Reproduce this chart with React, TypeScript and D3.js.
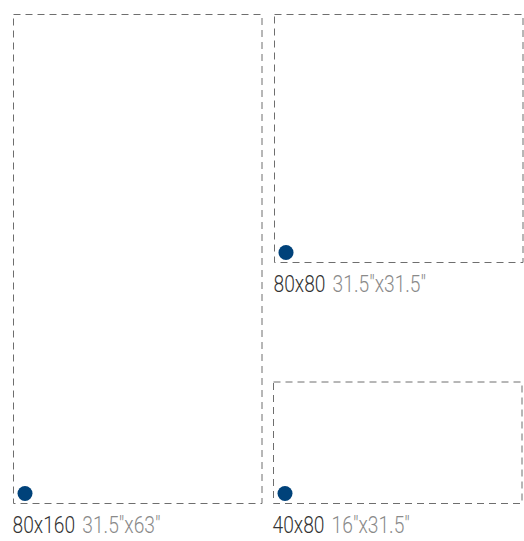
import React from "react";
import * as d3 from "d3";

// Panel sizes in cm (width x height) and their labels
const panelNames = ["80x160", "80x80", "40x80"];
const panelWidthsCm = [80, 80, 80];
const panelHeightsCm = [160, 80, 40];
const inchLabels = ['31.5"x63"', '31.5"x31.5"', '16"x31.5"'];
const columns = [0, 1, 1];
const anchors = ["top", "top", "bottom"];

const W = 524;
const H = 541;

export default function App() {
  const colX = [13.5, 274.5];
  const top = 14.5;
  const bottom = 503.5;

  const wScale = d3.scaleLinear().domain([0, 80]).range([0, 248.5]);
  const hScale = d3.scaleLinear().domain([40, 80, 160]).range([121.5, 248, 489]);

  const panels = panelNames.map((name, i) => {
    const w = wScale(panelWidthsCm[i]);
    const h = hScale(panelHeightsCm[i]);
    const x = colX[columns[i]] - (i === 2 ? 1 : 0);
    const y = anchors[i] === "top" ? top : bottom - h;
    return { name, inch: inchLabels[i], x, y, w, h };
  });

  return (
    <svg
      width={W}
      height={H}
      style={{ position: "absolute", left: 0, top: 0, display: "block" }}
    >
      <rect x={0} y={0} width={W} height={H} fill="#ffffff" />
      {panels.map((p, i) => (
        <g key={i}>
          <rect
            x={p.x}
            y={p.y}
            width={p.w}
            height={p.h}
            fill="none"
            stroke="#6e6e6e"
            strokeWidth={1}
            strokeDasharray="7,5"
          />
          <circle cx={p.x + 11.5} cy={p.y + p.h - 10} r={7.5} fill="#00427a" />
          <text
            transform={`translate(${p.x - 1},${p.y + p.h + 29.5}) scale(0.8,1)`}
            fontFamily="Roboto, 'Liberation Sans', sans-serif"
            fontWeight={300}
            fontSize={24}
            fill="#333333"
          >
            {p.name}
            <tspan dx={9} fill="#8a8a8a">
              {p.inch}
            </tspan>
          </text>
        </g>
      ))}
    </svg>
  );
}
